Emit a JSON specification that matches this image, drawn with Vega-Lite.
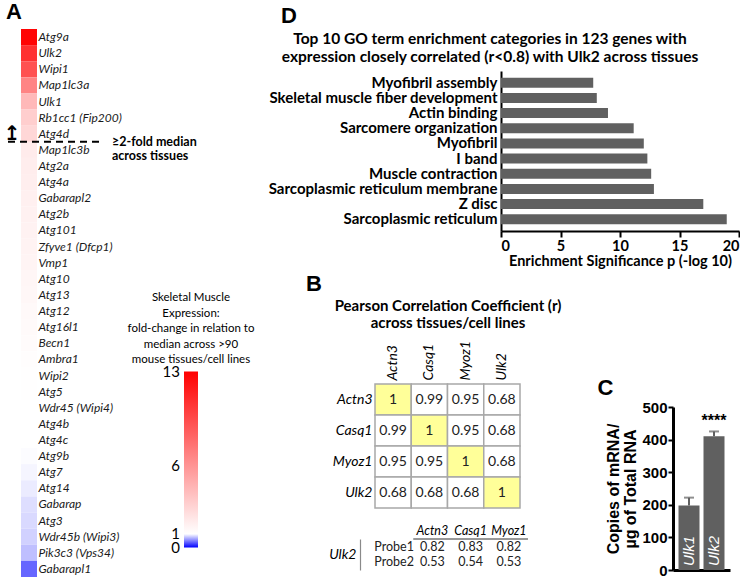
{
  "$schema": "https://vega.github.io/schema/vega-lite/v6.json",
  "background": "white",
  "padding": {"left": 3, "top": 1, "right": 0, "bottom": 0},
  "config": {
    "view": {"stroke": null},
    "axis": {"labelColor": "black", "titleColor": "black", "grid": false, "labelOverlap": false},
    "title": {"color": "black"}
  },
  "spacing": -3,
  "hconcat": [
    {
      "title": {"text": "A", "anchor": "start", "frame": "group", "dx": -15, "offset": 5, "font": "Liberation Sans", "fontSize": 22, "fontWeight": "bold"},
      "width": 16,
      "height": 506,
      "data": {"values": [
        {"gene": "Atg9a", "fc": 12.8},
        {"gene": "Ulk2", "fc": 10.7},
        {"gene": "Wipi1", "fc": 9.2},
        {"gene": "Map1lc3a", "fc": 6.8},
        {"gene": "Ulk1", "fc": 4.3},
        {"gene": "Rb1cc1 (Fip200)", "fc": 3.3},
        {"gene": "Atg4d", "fc": 2.9},
        {"gene": "Map1lc3b", "fc": 1.95},
        {"gene": "Atg2a", "fc": 1.85},
        {"gene": "Atg4a", "fc": 1.8},
        {"gene": "Gabarapl2", "fc": 1.72},
        {"gene": "Atg2b", "fc": 1.68},
        {"gene": "Atg101", "fc": 1.62},
        {"gene": "Zfyve1 (Dfcp1)", "fc": 1.56},
        {"gene": "Vmp1", "fc": 1.5},
        {"gene": "Atg10", "fc": 1.44},
        {"gene": "Atg13", "fc": 1.38},
        {"gene": "Atg12", "fc": 1.3},
        {"gene": "Atg16l1", "fc": 1.25},
        {"gene": "Becn1", "fc": 1.18},
        {"gene": "Ambra1", "fc": 1.1},
        {"gene": "Wipi2", "fc": 1.06},
        {"gene": "Atg5", "fc": 1.04},
        {"gene": "Wdr45 (Wipi4)", "fc": 1.02},
        {"gene": "Atg4b", "fc": 1.01},
        {"gene": "Atg4c", "fc": 1.0},
        {"gene": "Atg9b", "fc": 0.99},
        {"gene": "Atg7", "fc": 0.96},
        {"gene": "Atg14", "fc": 0.92},
        {"gene": "Gabarap", "fc": 0.87},
        {"gene": "Atg3", "fc": 0.85},
        {"gene": "Wdr45b (Wipi3)", "fc": 0.82},
        {"gene": "Pik3c3 (Vps34)", "fc": 0.75},
        {"gene": "Gabarapl1", "fc": 0.4}
      ]},
      "layer": [
        {
          "mark": {"type": "rect"},
          "encoding": {
            "y": {"field": "gene", "type": "nominal", "sort": null,
              "scale": {"paddingInner": 0, "paddingOuter": 0, "range": [-42, 506]},
              "axis": {"orient": "right", "title": null, "ticks": false, "domain": false, "labelFont": "Lato", "labelFontStyle": "italic", "labelFontSize": 12, "labelPadding": 1, "minExtent": 230, "labelColor": "#1a1a1a"}},
            "color": {"field": "fc", "type": "quantitative",
              "scale": {"domain": [0, 1, 13], "range": ["#0000ff", "#ffffff", "#ff0000"], "interpolate": "rgb"},
              "legend": {
                "orient": "none", "legendX": 107, "legendY": 221, "direction": "vertical",
                "title": ["Skeletal Muscle", "Expression:", "fold-change in relation to", "median across >90", "mouse tissues/cell lines"],
                "titleFont": "Lato", "titleFontSize": 11.5, "titleFontWeight": "normal", "titleColor": "black",
                "titleAlign": "center", "titleAnchor": "middle", "titleLineHeight": 15.5, "titlePadding": 6, "titleLimit": 300,
                "gradientLength": 176, "gradientThickness": 14, "gradientStrokeWidth": 0,
                "values": [0, 1, 6, 13], "labelOffset": -18, "labelOverlap": false,
                "labelFont": "Lato", "labelFontSize": 15, "labelColor": "black", "padding": 0,
                "encode": {"labels": {"update": {"align": {"value": "right"}, "baseline": {"value": "middle"}}}}
              }}
          }
        },
        {
          "data": {"values": [{}]},
          "mark": {"type": "rule", "strokeDash": [7, 5], "strokeWidth": 2, "color": "black"},
          "encoding": {"y": {"datum": "Map1lc3b", "type": "nominal", "bandPosition": 0}, "x": {"value": -13}, "x2": {"value": 83}}
        },
        {
          "data": {"values": [{}]},
          "mark": {"type": "text", "text": "↥", "font": "DejaVu Sans", "fontSize": 20, "fontWeight": "bold", "baseline": "bottom", "align": "center", "dy": 2},
          "encoding": {"y": {"datum": "Map1lc3b", "type": "nominal", "bandPosition": 0}, "x": {"value": -9}}
        },
        {
          "data": {"values": [{}]},
          "mark": {"type": "text", "text": ["≥2-fold median", "across tissues"], "font": "Lato", "fontSize": 12.5, "fontWeight": "bold", "align": "left", "baseline": "middle", "lineHeight": 14},
          "encoding": {"y": {"datum": "Map1lc3b", "type": "nominal", "bandPosition": 0}, "x": {"value": 91}}
        }
      ]
    },
    {
      "title": {"text": "D", "anchor": "start", "frame": "bounds", "dx": 17, "offset": 4, "font": "Liberation Sans", "fontSize": 22, "fontWeight": "bold"},
      "spacing": 5,
      "vconcat": [
        {
          "title": {"text": ["Top 10 GO term enrichment categories in 123 genes with", "expression closely correlated (r<0.8) with Ulk2 across tissues"],
            "anchor": "middle", "frame": "group", "dx": -67, "offset": 6, "font": "Lato", "fontSize": 15.5, "fontWeight": "bold", "lineHeight": 18, "limit": 600},
          "width": 364,
          "height": 160,
          "data": {"values": [
            {"term": "Myofibril assembly", "p": 7.75},
            {"term": "Skeletal muscle fiber development", "p": 8.05},
            {"term": "Actin binding", "p": 8.99},
            {"term": "Sarcomere organization", "p": 11.15},
            {"term": "Myofibril", "p": 12.0},
            {"term": "I band", "p": 12.3},
            {"term": "Muscle contraction", "p": 12.62},
            {"term": "Sarcoplasmic reticulum membrane", "p": 12.85},
            {"term": "Z disc", "p": 17.0},
            {"term": "Sarcoplasmic reticulum", "p": 18.97}
          ]},
          "mark": {"type": "bar", "color": "#606060"},
          "encoding": {
            "y": {"field": "term", "type": "nominal", "sort": null,
              "scale": {"paddingInner": 0.34, "paddingOuter": 0.45},
              "axis": {"title": null, "ticks": false, "offset": -126, "domainColor": "black", "domainWidth": 2, "labelFont": "Lato", "labelFontSize": 15, "labelFontWeight": "bold", "labelPadding": 4, "labelLimit": 400}},
            "x": {"field": "p", "type": "quantitative", "scale": {"domain": [0, 20], "nice": false, "range": [126, 364]},
              "axis": {"values": [0, 5, 10, 15, 20], "title": "Enrichment Significance p (-log 10)", "titleFont": "Lato", "titleFontSize": 14.5, "titleFontWeight": "bold", "titlePadding": 2,
                "labelFont": "Lato", "labelFontSize": 14.5, "labelFontWeight": "bold", "labelPadding": 2,
                "domainColor": "black", "domainWidth": 2, "tickColor": "black", "tickWidth": 2, "tickSize": 6}}
          }
        },
        {
          "spacing": 36,
          "hconcat": [
            {
              "spacing": 15,
              "vconcat": [
                {
                  "title": {"text": "B", "anchor": "start", "frame": "group", "dx": -69, "offset": 2, "font": "Liberation Sans", "fontSize": 22, "fontWeight": "bold"},
                  "width": 145,
                  "height": 124,
                  "data": {"values": [
                    {"row": "Actn3", "col": "Actn3", "r": 1}, {"row": "Actn3", "col": "Casq1", "r": 0.99}, {"row": "Actn3", "col": "Myoz1", "r": 0.95}, {"row": "Actn3", "col": "Ulk2", "r": 0.68},
                    {"row": "Casq1", "col": "Actn3", "r": 0.99}, {"row": "Casq1", "col": "Casq1", "r": 1}, {"row": "Casq1", "col": "Myoz1", "r": 0.95}, {"row": "Casq1", "col": "Ulk2", "r": 0.68},
                    {"row": "Myoz1", "col": "Actn3", "r": 0.95}, {"row": "Myoz1", "col": "Casq1", "r": 0.95}, {"row": "Myoz1", "col": "Myoz1", "r": 1}, {"row": "Myoz1", "col": "Ulk2", "r": 0.68},
                    {"row": "Ulk2", "col": "Actn3", "r": 0.68}, {"row": "Ulk2", "col": "Casq1", "r": 0.68}, {"row": "Ulk2", "col": "Myoz1", "r": 0.68}, {"row": "Ulk2", "col": "Ulk2", "r": 1}
                  ]},
                  "encoding": {
                    "x": {"field": "col", "type": "nominal", "sort": ["Actn3", "Casq1", "Myoz1", "Ulk2"],
                      "scale": {"paddingInner": 0, "paddingOuter": 0},
                      "axis": {"orient": "top", "labelAngle": -90, "labelAlign": "left", "labelBaseline": "middle", "labelFont": "Lato", "labelFontStyle": "italic", "labelFontSize": 14, "labelPadding": 4, "ticks": false, "domain": false,
                        "title": ["Pearson Correlation Coefficient (r)", "across tissues/cell lines"], "titleFont": "Lato", "titleFontSize": 15, "titleFontWeight": "bold", "titleLineHeight": 17, "titlePadding": 10, "titleLimit": 400}},
                    "y": {"field": "row", "type": "nominal", "sort": ["Actn3", "Casq1", "Myoz1", "Ulk2"],
                      "scale": {"paddingInner": 0, "paddingOuter": 0},
                      "axis": {"title": null, "ticks": false, "domain": false, "labelFont": "Lato", "labelFontStyle": "italic", "labelFontSize": 14, "labelPadding": 3, "minExtent": 111}}
                  },
                  "layer": [
                    {
                      "mark": {"type": "rect", "stroke": "#a8a8a8", "strokeWidth": 1.5},
                      "encoding": {
                        "fill": {"condition": {"test": "datum.row === datum.col", "value": "#ffff99"}, "value": "#ffffff"}
                      }
                    },
                    {
                      "mark": {"type": "text", "font": "Lato", "fontSize": 14, "color": "#222222"},
                      "encoding": {"text": {"field": "r", "type": "quantitative"}}
                    }
                  ]
                },
                {
                  "width": 153,
                  "height": 31,
                  "data": {"values": [
                    {"row": "Probe1", "col": "Probe", "t": "Probe1"}, {"row": "Probe1", "col": "Actn3", "t": "0.82"}, {"row": "Probe1", "col": "Casq1", "t": "0.83"}, {"row": "Probe1", "col": "Myoz1", "t": "0.82"},
                    {"row": "Probe2", "col": "Probe", "t": "Probe2"}, {"row": "Probe2", "col": "Actn3", "t": "0.53"}, {"row": "Probe2", "col": "Casq1", "t": "0.54"}, {"row": "Probe2", "col": "Myoz1", "t": "0.53"}
                  ]},
                  "layer": [
                    {
                      "mark": {"type": "text", "font": "Lato", "fontSize": 12.5, "color": "#222222"},
                      "encoding": {
                        "x": {"field": "col", "type": "nominal", "sort": ["Probe", "Actn3", "Casq1", "Myoz1"],
                          "scale": {"paddingInner": 0, "paddingOuter": 0},
                          "axis": {"orient": "top", "labelExpr": "datum.value == 'Probe' ? '' : datum.value", "labelAngle": 0, "labelFont": "Lato", "labelFontStyle": "italic", "labelFontSize": 12.5, "labelPadding": 2, "ticks": false, "domain": false, "title": null}},
                        "y": {"field": "row", "type": "nominal", "sort": ["Probe1", "Probe2"],
                          "scale": {"paddingInner": 0, "paddingOuter": 0},
                          "axis": {"labels": false, "ticks": false, "domain": true, "domainColor": "#8a8a8a", "domainWidth": 1.2, "offset": 15,
                            "title": "Ulk2", "titleAngle": 0, "titleFont": "Lato", "titleFontStyle": "italic", "titleFontSize": 14, "titleFontWeight": "normal",
                            "titleX": -4, "titleY": 15.5, "titleAlign": "right", "titleBaseline": "middle"}},
                        "text": {"field": "t", "type": "nominal"}
                      }
                    },
                    {
                      "data": {"values": [{}]},
                      "mark": {"type": "rule", "color": "#333333", "strokeWidth": 1},
                      "encoding": {
                        "x": {"datum": "Actn3", "type": "nominal", "bandPosition": 0},
                        "x2": {"datum": "Myoz1", "bandPosition": 1},
                        "y": {"datum": "Probe1", "type": "nominal", "bandPosition": 0}
                      }
                    }
                  ]
                }
              ]
            },
            {
              "width": 57,
              "height": 186,
              "data": {"values": [
                {"gene": "Ulk1", "mean": 198, "hi": 222},
                {"gene": "Ulk2", "mean": 410, "hi": 425}
              ]},
              "encoding": {
                "x": {"field": "gene", "type": "nominal", "scale": {"paddingInner": 0.16, "paddingOuter": 0.22},
                  "axis": {"orient": "bottom", "labels": false, "ticks": false, "domainColor": "black", "domainWidth": 3,
                    "title": "C", "titleX": -68, "titleY": -183, "titleAngle": 0, "titleAlign": "center", "titleBaseline": "middle",
                    "titleFont": "Liberation Sans", "titleFontSize": 22, "titleFontWeight": "bold"}}
              },
              "layer": [
                {
                  "mark": {"type": "bar", "color": "#606060"},
                  "encoding": {
                    "y": {"field": "mean", "type": "quantitative", "scale": {"domain": [0, 500], "nice": false, "range": [186, 23]},
                      "axis": {"values": [0, 100, 200, 300, 400, 500], "tickCount": 6, "title": ["Copies of mRNA/", "µg of Total RNA"], "titleFont": "Liberation Sans", "titleFontSize": 16, "titleFontWeight": "bold", "titleLineHeight": 17, "titlePadding": 3, "titleLimit": 400,
                        "labelFont": "Liberation Sans", "labelFontSize": 15, "labelFontWeight": "bold", "labelPadding": 1, "labelOverlap": false,
                        "domainColor": "black", "domainWidth": 3, "tickColor": "black", "tickWidth": 2, "tickSize": 5}}
                  }
                },
                {
                  "mark": {"type": "rule", "color": "#606060", "strokeWidth": 2},
                  "encoding": {
                    "y": {"field": "mean", "type": "quantitative", "scale": {"domain": [0, 500], "nice": false, "range": [186, 23]},
                      "axis": {"values": [0, 100, 200, 300, 400, 500], "tickCount": 6, "title": ["Copies of mRNA/", "µg of Total RNA"], "titleFont": "Liberation Sans", "titleFontSize": 16, "titleFontWeight": "bold", "titleLineHeight": 17, "titlePadding": 3, "titleLimit": 400,
                        "labelFont": "Liberation Sans", "labelFontSize": 15, "labelFontWeight": "bold", "labelPadding": 1, "labelOverlap": false,
                        "domainColor": "black", "domainWidth": 3, "tickColor": "black", "tickWidth": 2, "tickSize": 5}},
                    "y2": {"field": "hi"}
                  }
                },
                {
                  "mark": {"type": "tick", "color": "#606060", "thickness": 2, "size": 10},
                  "encoding": {
                    "y": {"field": "hi", "type": "quantitative", "scale": {"domain": [0, 500], "nice": false, "range": [186, 23]},
                      "axis": {"values": [0, 100, 200, 300, 400, 500], "tickCount": 6, "title": ["Copies of mRNA/", "µg of Total RNA"], "titleFont": "Liberation Sans", "titleFontSize": 16, "titleFontWeight": "bold", "titleLineHeight": 17, "titlePadding": 3, "titleLimit": 400,
                        "labelFont": "Liberation Sans", "labelFontSize": 15, "labelFontWeight": "bold", "labelPadding": 1, "labelOverlap": false,
                        "domainColor": "black", "domainWidth": 3, "tickColor": "black", "tickWidth": 2, "tickSize": 5}}
                  }
                },
                {
                  "data": {"values": [{"gene": "Ulk2", "hi": 425, "sig": "****"}]},
                  "mark": {"type": "text", "font": "Liberation Sans", "fontSize": 16, "fontWeight": "bold", "baseline": "bottom", "dy": -2},
                  "encoding": {
                    "y": {"field": "hi", "type": "quantitative", "scale": {"domain": [0, 500], "nice": false, "range": [186, 23]},
                      "axis": {"values": [0, 100, 200, 300, 400, 500], "tickCount": 6, "title": ["Copies of mRNA/", "µg of Total RNA"], "titleFont": "Liberation Sans", "titleFontSize": 16, "titleFontWeight": "bold", "titleLineHeight": 17, "titlePadding": 3, "titleLimit": 400,
                        "labelFont": "Liberation Sans", "labelFontSize": 15, "labelFontWeight": "bold", "labelPadding": 1, "labelOverlap": false,
                        "domainColor": "black", "domainWidth": 3, "tickColor": "black", "tickWidth": 2, "tickSize": 5}},
                    "text": {"field": "sig", "type": "nominal"}
                  }
                },
                {
                  "mark": {"type": "text", "angle": 270, "align": "left", "baseline": "middle", "color": "white", "fontStyle": "italic", "font": "Liberation Sans", "fontSize": 15, "dx": 4},
                  "encoding": {
                    "y": {"datum": 0, "type": "quantitative", "scale": {"domain": [0, 500], "nice": false, "range": [186, 23]},
                      "axis": {"values": [0, 100, 200, 300, 400, 500], "tickCount": 6, "title": ["Copies of mRNA/", "µg of Total RNA"], "titleFont": "Liberation Sans", "titleFontSize": 16, "titleFontWeight": "bold", "titleLineHeight": 17, "titlePadding": 3, "titleLimit": 400,
                        "labelFont": "Liberation Sans", "labelFontSize": 15, "labelFontWeight": "bold", "labelPadding": 1, "labelOverlap": false,
                        "domainColor": "black", "domainWidth": 3, "tickColor": "black", "tickWidth": 2, "tickSize": 5}},
                    "text": {"field": "gene", "type": "nominal"}
                  }
                }
              ]
            }
          ]
        }
      ]
    }
  ]
}
